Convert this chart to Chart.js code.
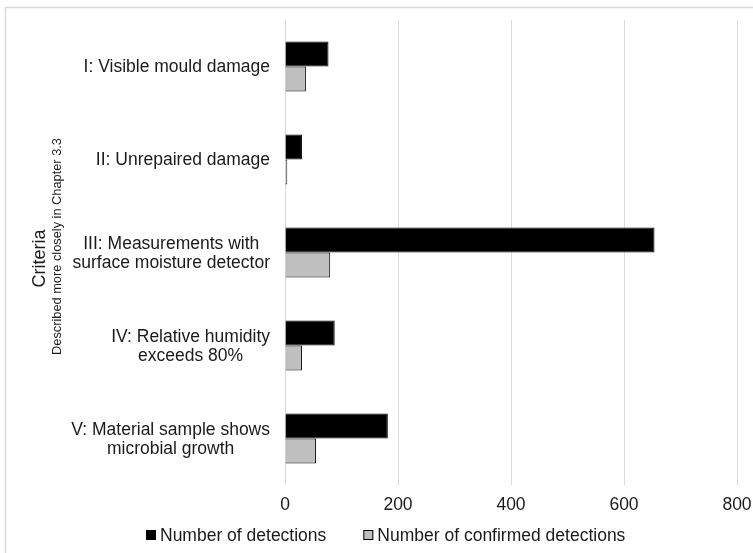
<!DOCTYPE html>
<html>
<head>
<meta charset="utf-8">
<script src="https://cdn.jsdelivr.net/npm/chart.js@4/dist/chart.umd.min.js"></script>
<style>
  html, body { margin: 0; padding: 0; background: #fff; }
  #wrap { width: 753px; height: 553px; }
</style>
</head>
<body>
<div id="wrap"><canvas id="c" width="753" height="553"></canvas></div>
<script>
// Criteria (multi-line category labels)
const categories = [
  ["I: Visible mould damage"],
  ["II: Unrepaired damage"],
  ["III: Measurements with", "surface moisture detector"],
  ["IV: Relative humidity", "exceeds 80%"],
  ["V: Material sample shows", "microbial growth"]
];
const detections = [77, 30, 654, 88, 182];
const confirmedDetections = [37, 4, 80, 30, 55];
const xTicks = [0, 200, 400, 600, 800];
const seriesNames = ["Number of detections", "Number of confirmed detections"];
const axisTitle = "Criteria";
const axisSubtitle = "Described more closely in Chapter 3.3";

const FONT = "'Liberation Sans', Arial, Helvetica, sans-serif";
const TEXT = "#1a1a1a";
const SIZE = 17.5;

// Frame around the whole figure
const framePlugin = {
  id: 'frame',
  beforeDraw(chart) {
    const ctx = chart.ctx;
    ctx.save();
    ctx.fillStyle = '#fff';
    ctx.fillRect(0, 0, chart.width, chart.height);
    ctx.strokeStyle = '#d9d9d9';
    ctx.lineWidth = 1.5;
    ctx.strokeRect(5.5, 7.5, chart.width + 20, chart.height + 20);
    ctx.restore();
  }
};

// Category labels: each block right-aligned to the axis, lines centered within the block
const categoryLabelPlugin = {
  id: 'categoryLabels',
  afterDraw(chart) {
    const ctx = chart.ctx;
    const ys = chart.scales.y;
    const right = chart.chartArea.left - 15;
    const lh = 19;
    ctx.save();
    ctx.font = SIZE + 'px ' + FONT;
    ctx.fillStyle = TEXT;
    ctx.textAlign = 'center';
    ctx.textBaseline = 'middle';
    categories.forEach((lines, i) => {
      const cy = ys.getPixelForValue(i) + 1;
      const w = Math.max(...lines.map(l => ctx.measureText(l).width));
      const cx = right - w / 2;
      lines.forEach((l, j) => {
        ctx.fillText(l, cx, cy + (j - (lines.length - 1) / 2) * lh);
      });
    });
    ctx.restore();
  }
};

// Rotated axis title with a smaller second line
const axisTitlePlugin = {
  id: 'axisTitle',
  afterDraw(chart) {
    const ctx = chart.ctx;
    const a = chart.chartArea;
    const cy = (a.top + a.bottom) / 2;
    ctx.save();
    ctx.fillStyle = TEXT;
    ctx.textAlign = 'center';
    ctx.textBaseline = 'middle';
    ctx.translate(40, cy + 6);
    ctx.rotate(-Math.PI / 2);
    ctx.font = '18px ' + FONT;
    ctx.fillText(axisTitle, 0, 0);
    ctx.font = '12.8px ' + FONT;
    ctx.fillText(axisSubtitle, 12, 17);
    ctx.restore();
  }
};

// Legend row below the axis, built from the datasets' own styles
const legendRowPlugin = {
  id: 'legendRow',
  afterDraw(chart) {
    const ctx = chart.ctx;
    const box = 10, gap = 4, spacing = 37;
    const y = chart.height - 18;
    ctx.save();
    ctx.font = SIZE + 'px ' + FONT;
    ctx.textBaseline = 'middle';
    ctx.textAlign = 'left';
    let x = 146;
    chart.data.datasets.forEach(ds => {
      ctx.fillStyle = ds.backgroundColor;
      ctx.fillRect(x, y - box / 2, box, box);
      ctx.strokeStyle = ds.borderColor;
      ctx.lineWidth = 1;
      ctx.strokeRect(x + 0.5, y - box / 2 + 0.5, box - 1, box - 1);
      ctx.fillStyle = TEXT;
      ctx.fillText(ds.label, x + box + gap, y + 1);
      x += box + gap + ctx.measureText(ds.label).width + spacing;
    });
    ctx.restore();
  }
};

new Chart(document.getElementById('c'), {
  type: 'bar',
  data: {
    labels: categories,
    datasets: [
      {
        label: seriesNames[0],
        data: detections,
        backgroundColor: '#000000',
        borderColor: '#000000',
        borderWidth: 1
      },
      {
        label: seriesNames[1],
        data: confirmedDetections,
        backgroundColor: '#bfbfbf',
        borderColor: '#000000',
        borderWidth: 1
      }
    ]
  },
  options: {
    indexAxis: 'y',
    responsive: false,
    maintainAspectRatio: false,
    devicePixelRatio: 1,
    animation: false,
    categoryPercentage: 0.54,
    barPercentage: 1.0,
    layout: { padding: { left: 0, right: 16, top: 20, bottom: 30 } },
    scales: {
      x: {
        min: xTicks[0],
        max: xTicks[xTicks.length - 1],
        afterBuildTicks(scale) { scale.ticks = xTicks.map(v => ({ value: v })); },
        afterFit(scale) {
          scale.paddingLeft = 0;
          scale.paddingRight = 0;
          scale.height = 38;
        },
        ticks: { font: { family: FONT, size: SIZE }, color: TEXT, padding: 10, maxRotation: 0 },
        grid: { color: '#d9d9d9', lineWidth: 1, tickLength: 0 },
        border: { display: false }
      },
      y: {
        afterFit(scale) { scale.width = 285; },
        ticks: { display: false },
        grid: { display: false },
        border: { display: false }
      }
    },
    plugins: {
      legend: { display: false },
      tooltip: { enabled: false }
    }
  },
  plugins: [framePlugin, categoryLabelPlugin, axisTitlePlugin, legendRowPlugin]
});
</script>
</body>
</html>
